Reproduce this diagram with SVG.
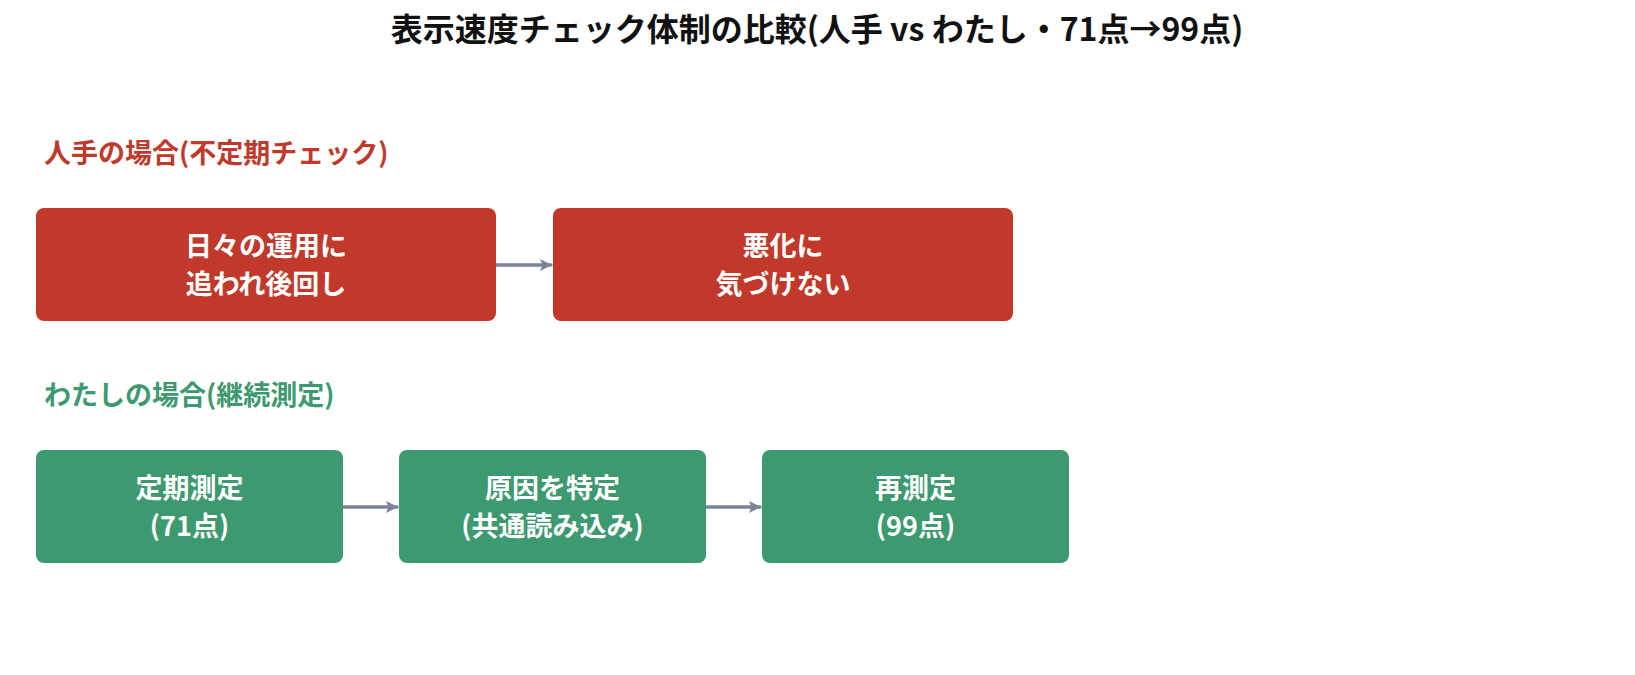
<svg xmlns="http://www.w3.org/2000/svg" width="1635" height="675" viewBox="0 0 1635 675">
<style>
text{font-family:"Noto Sans CJK JP","Noto Sans",sans-serif;font-weight:700}
.title{font-size:32px;fill:#111111}
.sec{font-size:27px}
.red{fill:#c0392b}
.green{fill:#3d9970}
.nt{font-size:27px;fill:#ffffff;text-anchor:middle}
.conn{stroke:#7a8599;stroke-width:3.5;fill:none;stroke-linecap:round}
</style>
<defs>
<marker id="ah" markerWidth="12" markerHeight="12" refX="11" refY="6" orient="auto" markerUnits="userSpaceOnUse" viewBox="0 0 12 12">
<path d="M0,0 L12,6 L0,12 L2.5,6 Z" fill="#7a8599"/>
</marker>
</defs>
<rect width="1635" height="675" fill="#ffffff"/>
<text class="title" x="817" y="41" text-anchor="middle">表示速度チェック体制の比較(人手 vs わたし・71点→99点)</text>
<text class="sec red" x="44" y="163">人手の場合(不定期チェック)</text>
<text class="sec green" x="44" y="405">わたしの場合(継続測定)</text>
<g id="connectors">
<line class="conn" x1="494" y1="265" x2="551" y2="265" marker-end="url(#ah)"/>
<line class="conn" x1="341" y1="507" x2="397" y2="507" marker-end="url(#ah)"/>
<line class="conn" x1="704" y1="507" x2="760" y2="507" marker-end="url(#ah)"/>
</g>
<g id="node-r1">
<rect x="36" y="208" width="460" height="113" rx="8" fill="#c0392b"/>
<text class="nt" x="266" y="256">日々の運用に</text>
<text class="nt" x="266" y="294">追われ後回し</text>
</g>
<g id="node-r2">
<rect x="553" y="208" width="460" height="113" rx="8" fill="#c0392b"/>
<text class="nt" x="783" y="256">悪化に</text>
<text class="nt" x="783" y="294">気づけない</text>
</g>
<g id="node-g1">
<rect x="36" y="450" width="307" height="113" rx="8" fill="#3d9970"/>
<text class="nt" x="189.5" y="498">定期測定</text>
<text class="nt" x="189.5" y="536">(71点)</text>
</g>
<g id="node-g2">
<rect x="399" y="450" width="307" height="113" rx="8" fill="#3d9970"/>
<text class="nt" x="552.5" y="498">原因を特定</text>
<text class="nt" x="552.5" y="536">(共通読み込み)</text>
</g>
<g id="node-g3">
<rect x="762" y="450" width="307" height="113" rx="8" fill="#3d9970"/>
<text class="nt" x="915.5" y="498">再測定</text>
<text class="nt" x="915.5" y="536">(99点)</text>
</g>
</svg>
